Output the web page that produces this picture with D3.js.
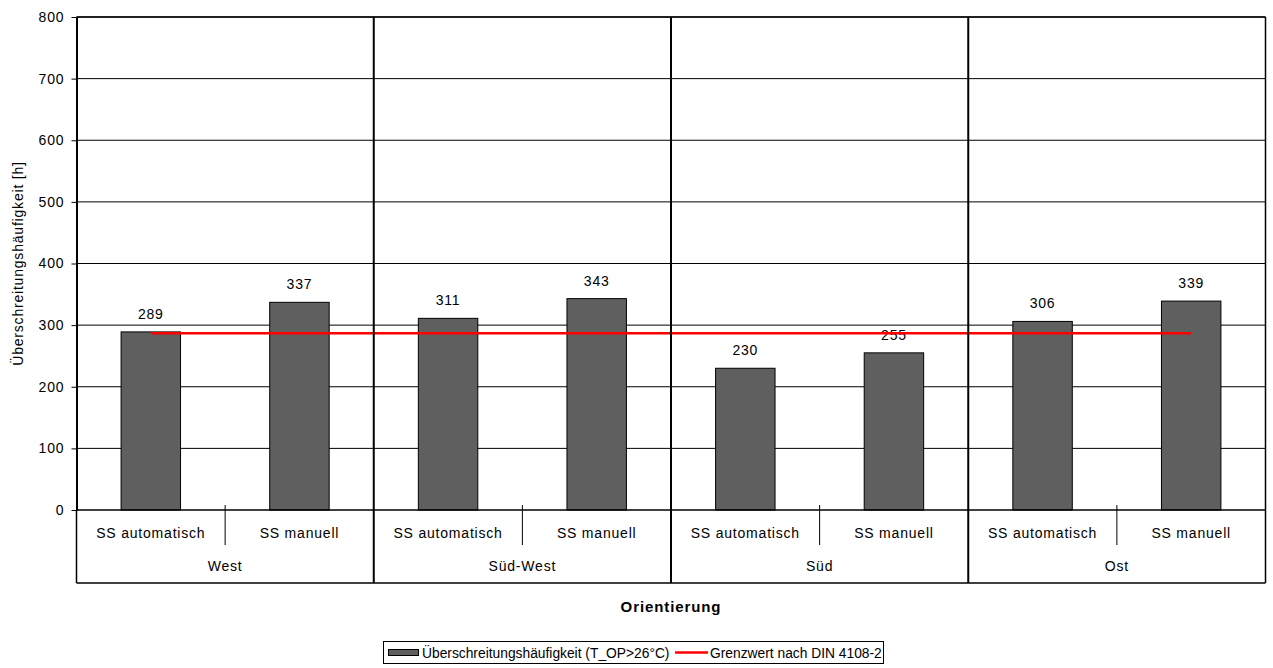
<!DOCTYPE html>
<html>
<head>
<meta charset="utf-8">
<script src="https://cdn.jsdelivr.net/npm/d3@7/dist/d3.min.js"></script>
<style>
  html, body { margin: 0; padding: 0; background: #fff; }
  svg text { font-family: "Liberation Sans", Arial, sans-serif; fill: #000; }
  .lbl { font-size: 14px; letter-spacing: 0.8px; }
</style>
</head>
<body>
<svg id="chart" width="1273" height="668"></svg>
<script>
// Orientations (outer groups) and shading control variants (inner categories)
const groups = ["West", "Süd-West", "Süd", "Ost"];
const variants = ["SS automatisch", "SS manuell"];
// Exceedance hours per orientation/variant, in the same order
const hours = [289, 337, 311, 343, 230, 255, 306, 339];
// Limit value line per category
const limitValues = [287, 287, 287, 287, 287, 287, 287, 287];
const yTicks = [0, 100, 200, 300, 400, 500, 600, 700, 800];

(function () {
  const categories = [];
  groups.forEach((g, gi) => variants.forEach((v, vi) => categories.push({ key: gi + "-" + vi, group: g, variant: v, gi, vi })));
  const rows = categories.map((c, i) => ({ ...c, value: hours[i], limit: limitValues[i] }));

  const svg = d3.select("#chart");
  const pLeft = 76.5, pRight = 1265.5, pTop = 17, zero = 510, catBottom = 583;

  const x = d3.scaleBand().domain(categories.map(c => c.key)).range([pLeft, pRight]).padding(0);
  const y = d3.scaleLinear().domain([0, 800]).range([zero, pTop]);

  // Horizontal gridlines
  svg.append("g").selectAll("line").data(yTicks.slice(1)).join("line")
    .attr("x1", pLeft).attr("x2", pRight)
    .attr("y1", d => y(d)).attr("y2", d => y(d))
    .attr("stroke", "#000").attr("stroke-width", 1);

  // Y axis with tick labels
  const yAxis = d3.axisLeft(y).tickValues(yTicks).tickSize(5).tickPadding(8).tickSizeOuter(0);
  const ya = svg.append("g").attr("transform", `translate(${pLeft},0)`).call(yAxis);
  ya.select(".domain").attr("stroke", "#000").attr("stroke-width", 2);
  ya.selectAll(".tick line").attr("stroke", "#000");
  ya.selectAll(".tick text").attr("class", "lbl").attr("font-family", null).attr("font-size", null)
    .attr("dx", "0.8px").attr("fill", "#000");
  ya.attr("font-family", null).attr("font-size", null);

  // Bars
  svg.append("g").selectAll("rect").data(rows).join("rect")
    .attr("x", d => x(d.key) + x.bandwidth() * 0.3)
    .attr("width", x.bandwidth() * 0.4)
    .attr("y", d => y(d.value))
    .attr("height", d => y(0) - y(d.value))
    .attr("fill", "#5f5f5f").attr("stroke", "#000").attr("stroke-width", 1);

  // Value labels
  svg.append("g").selectAll("text").data(rows).join("text")
    .attr("class", "lbl")
    .attr("x", d => x(d.key) + x.bandwidth() / 2)
    .attr("y", d => y(d.value) - 13)
    .attr("text-anchor", "middle")
    .text(d => d.value);

  // Limit line
  const line = d3.line().x(d => x(d.key) + x.bandwidth() / 2).y(d => y(d.limit));
  svg.append("path").datum(rows).attr("d", line)
    .attr("fill", "none").attr("stroke", "#ff0000").attr("stroke-width", 2.5);

  // Frame: top, right, zero line and category area bottom
  const frame = svg.append("g").attr("stroke", "#000").attr("stroke-width", 1.5);
  frame.append("line").attr("x1", pLeft).attr("x2", pRight).attr("y1", pTop).attr("y2", pTop);
  frame.append("line").attr("x1", pRight).attr("x2", pRight).attr("y1", pTop).attr("y2", catBottom);
  frame.append("line").attr("x1", pLeft).attr("x2", pRight).attr("y1", zero).attr("y2", zero);
  frame.append("line").attr("x1", pLeft).attr("x2", pRight).attr("y1", catBottom).attr("y2", catBottom);
  frame.append("line").attr("x1", pLeft).attr("x2", pLeft).attr("y1", zero).attr("y2", catBottom);

  // Group separators running through plot and category area
  svg.append("g").selectAll("line").data(groups.slice(1)).join("line")
    .attr("x1", (g, i) => x((i + 1) + "-0")).attr("x2", (g, i) => x((i + 1) + "-0"))
    .attr("y1", pTop).attr("y2", catBottom)
    .attr("stroke", "#000").attr("stroke-width", 2);

  // Short dividers between variants within a group
  svg.append("g").selectAll("line").data(groups).join("line")
    .attr("x1", (g, i) => x(i + "-1")).attr("x2", (g, i) => x(i + "-1"))
    .attr("y1", zero - 5).attr("y2", zero + 35)
    .attr("stroke", "#000").attr("stroke-width", 1);

  // Variant labels
  svg.append("g").selectAll("text").data(rows).join("text")
    .attr("class", "lbl")
    .attr("x", d => x(d.key) + x.bandwidth() / 2)
    .attr("y", 538)
    .attr("text-anchor", "middle")
    .text(d => d.variant);

  // Group labels
  svg.append("g").selectAll("text").data(groups).join("text")
    .attr("class", "lbl")
    .attr("x", (g, i) => (x(i + "-0") + x(i + "-1") + x.bandwidth()) / 2)
    .attr("y", 571)
    .attr("text-anchor", "middle")
    .text(g => g);

  // Axis titles
  svg.append("text")
    .attr("class", "lbl")
    .attr("transform", `translate(23,${(pTop + zero) / 2}) rotate(-90)`)
    .attr("text-anchor", "middle")
    .text("Überschreitungshäufigkeit [h]");

  svg.append("text")
    .attr("x", (pLeft + pRight) / 2).attr("y", 612)
    .attr("text-anchor", "middle")
    .style("font-size", "15px").style("font-weight", "bold").style("letter-spacing", "0.9px")
    .text("Orientierung");

  // Legend
  const lg = svg.append("g");
  lg.append("rect").attr("x", 383.5).attr("y", 641.5).attr("width", 500).attr("height", 22)
    .attr("fill", "#fff").attr("stroke", "#000").attr("stroke-width", 1);
  lg.append("rect").attr("x", 388.5).attr("y", 649.5).attr("width", 30).attr("height", 6)
    .attr("fill", "#5f5f5f").attr("stroke", "#000").attr("stroke-width", 1);
  lg.append("text").attr("x", 422).attr("y", 657.5).style("font-size", "13.8px")
    .text("Überschreitungshäufigkeit (T_OP>26°C)");
  lg.append("line").attr("x1", 675).attr("x2", 708).attr("y1", 652.5).attr("y2", 652.5)
    .attr("stroke", "#ff0000").attr("stroke-width", 2.5);
  lg.append("text").attr("x", 710).attr("y", 657.5).style("font-size", "13.8px")
    .text("Grenzwert nach DIN 4108-2");
})();
</script>
</body>
</html>
